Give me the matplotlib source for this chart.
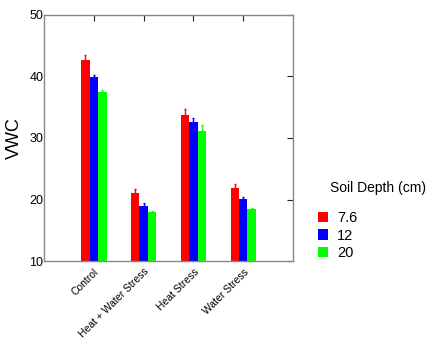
import numpy as np
import matplotlib.pyplot as plt
from matplotlib.patches import Patch

plt.rcParams['font.family'] = ['Liberation Sans', 'DejaVu Sans']

categories = ['Control', 'Heat + Water Stress', 'Heat Stress', 'Water Stress']
depths = ['7.6', '12', '20']
colors = ['#ff0000', '#0000ff', '#00ff00']
vwc = [
    [42.6, 21.0, 33.7, 21.9],   # 7.6 cm
    [39.9, 18.9, 32.6, 20.1],   # 12 cm
    [37.5, 17.9, 31.2, 18.5],   # 20 cm
]
err = [
    [0.9, 0.7, 1.0, 0.6],
    [0.3, 0.5, 0.7, 0.3],
    [0.3, 0.2, 0.9, 0.1],
]

fig = plt.figure(figsize=(4.4, 3.39), dpi=100)
ax = fig.add_axes([0.1, 0.23, 0.566, 0.726])

x = np.arange(len(categories))
w = 0.17
for i in range(3):
    vals = np.array(vwc[i])
    e = np.array(err[i])
    pos = x + (i - 1) * w
    ax.bar(pos, vals - 10, bottom=10, width=w, color=colors[i], edgecolor='none', zorder=2)
    ax.errorbar(pos, vals, yerr=[np.zeros_like(e), e], fmt='none', ecolor=colors[i],
                elinewidth=1, capsize=1, capthick=1, zorder=3)

ax.set_xlim(-1, 4)
ax.set_ylim(10, 50)
ax.set_yticks([10, 20, 30, 40, 50])
ax.set_xticks(x)
ax.set_xticklabels(categories, rotation=45, ha='right', rotation_mode='anchor', fontsize=7.5)
ax.tick_params(axis='y', left=False, right=True, direction='in', labelsize=9, length=4,
               color='#222222', pad=0.5)
ax.tick_params(axis='x', bottom=False, top=True, direction='in', length=4, color='#222222', pad=4)
ax.set_ylabel('VWC', fontsize=13)
ax.yaxis.set_label_coords(-0.085, 0.5)
for s in ax.spines.values():
    s.set_color('#888888')
    s.set_linewidth(1)

fig.text(0.75, 0.445, 'Soil Depth (cm)', fontsize=10, va='center')
handles = [Patch(facecolor=c, edgecolor='none', label=d) for c, d in zip(colors, depths)]
fig.legend(handles=handles, loc='upper left', bbox_to_anchor=(0.71, 0.395), frameon=False,
           fontsize=10.5, handlelength=0.7, handleheight=0.7, handletextpad=0.6,
           labelspacing=0.25, borderaxespad=0)

fig.savefig('out.png', dpi=100)
